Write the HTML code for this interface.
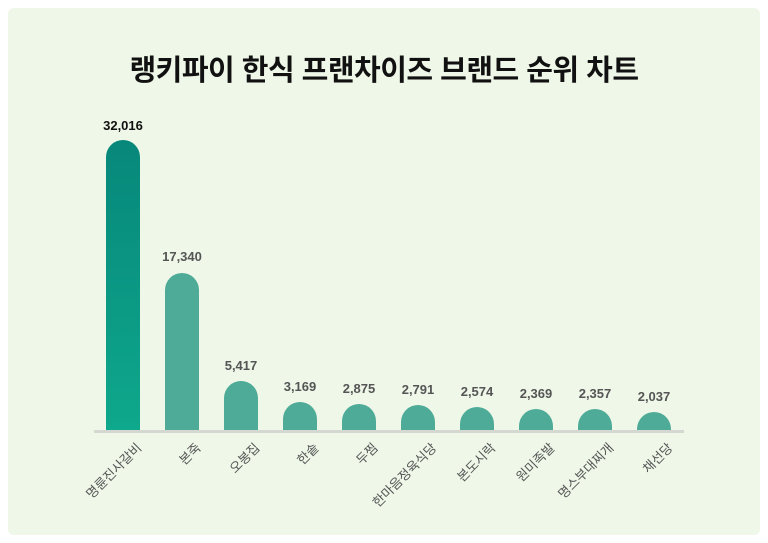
<!DOCTYPE html>
<html><head><meta charset="utf-8"><style>
html,body{margin:0;padding:0;background:#fff;}
body{width:768px;height:543px;position:relative;overflow:hidden;font-family:"Liberation Sans","Noto Sans CJK KR",sans-serif;}
.panel{position:absolute;left:8px;top:8px;width:752px;height:527px;background:#eef7e8;border-radius:6px;}
.title{position:absolute;left:0;width:768px;top:47px;text-align:center;font-size:29px;font-weight:bold;color:#111;letter-spacing:-0.5px;}
.bar{position:absolute;width:34px;border-radius:17px 17px 0 0;background:#4eab98;}
.val{position:absolute;width:80px;text-align:center;font-size:13px;font-weight:bold;color:#555;}
.axis{position:absolute;left:94px;width:590px;top:430px;height:3px;background:#d4d8d0;}
.lab{position:absolute;font-size:13px;color:#555;white-space:nowrap;transform-origin:100% 0;transform:rotate(-45deg);text-align:right;}
</style></head><body>
<div class="panel"></div>
<div class="title">랭키파이 한식 프랜차이즈 브랜드 순위 차트</div>
<div class="bar" style="left:106px;top:140px;height:290px;background:linear-gradient(#07877a,#0ea88c);"></div>
<div class="val" style="left:83px;top:118px;color:#111;">32,016</div>
<div class="bar" style="left:165px;top:273px;height:157px;"></div>
<div class="val" style="left:142px;top:249px;">17,340</div>
<div class="bar" style="left:224px;top:381px;height:49px;"></div>
<div class="val" style="left:201px;top:358px;">5,417</div>
<div class="bar" style="left:283px;top:402px;height:28px;"></div>
<div class="val" style="left:260px;top:379px;">3,169</div>
<div class="bar" style="left:342px;top:404px;height:26px;"></div>
<div class="val" style="left:319px;top:381px;">2,875</div>
<div class="bar" style="left:401px;top:405px;height:25px;"></div>
<div class="val" style="left:378px;top:382px;">2,791</div>
<div class="bar" style="left:460px;top:407px;height:23px;"></div>
<div class="val" style="left:437px;top:384px;">2,574</div>
<div class="bar" style="left:519px;top:409px;height:21px;"></div>
<div class="val" style="left:496px;top:386px;">2,369</div>
<div class="bar" style="left:578px;top:409px;height:21px;"></div>
<div class="val" style="left:555px;top:386px;">2,357</div>
<div class="bar" style="left:637px;top:412px;height:18px;"></div>
<div class="val" style="left:614px;top:389px;">2,037</div>
<div class="axis"></div>
<div class="lab" style="right:636px;top:438px;">명륜진사갈비</div>
<div class="lab" style="right:577px;top:438px;">본죽</div>
<div class="lab" style="right:518px;top:438px;">오봉집</div>
<div class="lab" style="right:459px;top:438px;">한솥</div>
<div class="lab" style="right:400px;top:438px;">두찜</div>
<div class="lab" style="right:341px;top:438px;">한마음정육식당</div>
<div class="lab" style="right:282px;top:438px;">본도시락</div>
<div class="lab" style="right:223px;top:438px;">원미족발</div>
<div class="lab" style="right:164px;top:438px;">명스부대찌개</div>
<div class="lab" style="right:105px;top:438px;">채선당</div>
</body></html>
